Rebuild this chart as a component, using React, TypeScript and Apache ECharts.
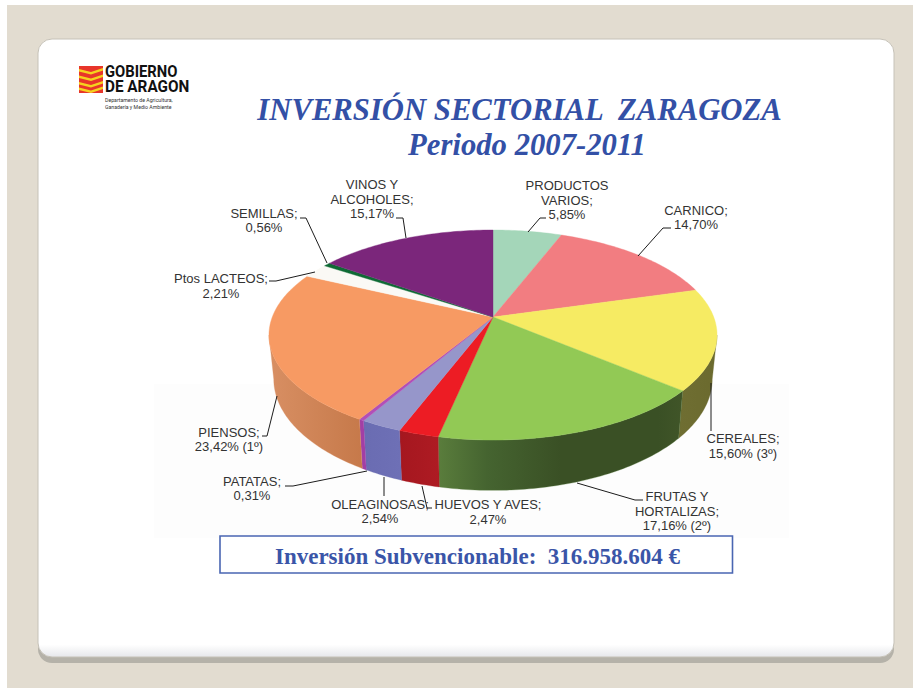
import React, { useEffect, useRef } from "react";
import * as echarts from "echarts";

// ---- data ----
const sliceNames = ["PRODUCTOS VARIOS", "CARNICO", "CEREALES", "FRUTAS Y HORTALIZAS", "HUEVOS Y AVES", "OLEAGINOSAS", "PATATAS", "PIENSOS", "Ptos LACTEOS", "SEMILLAS", "VINOS Y ALCOHOLES"];
const sliceValues = [5.85, 14.7, 15.6, 17.16, 2.47, 2.54, 0.31, 23.42, 2.21, 0.56, 15.17];
const labelNames = ["PRODUCTOS\nVARIOS;", "CARNICO;", "CEREALES;", "FRUTAS Y\nHORTALIZAS;", "HUEVOS Y AVES;", "OLEAGINOSAS;", "PATATAS;", "PIENSOS;", "Ptos LACTEOS;", "SEMILLAS;", "VINOS Y\nALCOHOLES;"];
const labelSuffix = ["", "", " (3º)", " (2º)", "", "", "", " (1º)", "", "", ""];
const titleLines = ["INVERSIÓN SECTORIAL  ZARAGOZA", "Periodo 2007-2011"];
const footerText = "Inversión Subvencionable:  316.958.604 €";
const logoLines = ["GOBIERNO", "DE ARAGON"];
const logoSubLines = ["Departamento de Agricultura,", "Ganadería y Medio Ambiente"];

// ---- styles and layout ----
const topColors = ["#A4D6B9", "#F27D81", "#F6EB63", "#92C955", "#ED1C24", "#9696CA", "#B14FB8", "#F79A63", "#FAF9F5", "#0E6B35", "#7B267B"];
const sideStops: string[][] = [
  ["#7FA690", "#7FA690"], ["#B05C60", "#B05C60"], ["#6B6A2E", "#6F6E32"],
  ["#5A7D3C", "#456430", "#3A5025", "#405528"], ["#A5171F", "#AE1B23"], ["#6A6CB2", "#6E70B6"],
  ["#A23FA5", "#A23FA5"], ["#D88F63", "#C6794A"], ["#DDD", "#DDD"], ["#0A4F27", "#0A4F27"], ["#5A1C5A", "#5A1C5A"],
];
const labelCenters = [[567, 200], [696, 217.5], [743, 446], [677, 511], [488, 512], [380, 511.5], [252, 488.5], [229, 439.5], [221, 286], [264, 220.5], [372, 199]];
const leaders = [
  [[546, 218], [540, 218], [528, 232]],
  [[671, 228], [663, 228], [638, 256]],
  [[711, 383], [711, 431]],
  [[643, 500], [635, 500], [577, 483]],
  [[422, 486], [427, 508], [432, 508]],
  [[384, 477], [384, 496]],
  [[285, 486], [293, 486], [367, 471]],
  [[262, 436], [267, 436], [277, 396]],
  [[269, 281], [276, 281], [315, 272]],
  [[300, 218], [306, 218], [327, 263]],
  [[396, 218], [403, 218], [406, 238]],
];

// Perspective projection of the unit disc
const CX = 493;
const K = 0.1715;
const top3d = { y0: 317, a: 220.7, b: 101.9 };
const bottom3d = { y0: 360, a: 216, b: 108 };
const SIDE_FROM = 99.9;
const SIDE_TO = 260.1;
const total = sliceValues.reduce((s, v) => s + v, 0);

function project(deg: number, p: { y0: number; a: number; b: number }): number[] {
  const r = (deg * Math.PI) / 180;
  const u = Math.sin(r);
  const v = Math.cos(r);
  const w = 1 + K * v;
  return [CX + (p.a * u) / w, p.y0 - (p.b * v) / w];
}

function arc(a0: number, a1: number, p: { y0: number; a: number; b: number }): number[][] {
  const n = Math.max(2, Math.ceil(Math.abs(a1 - a0)));
  const pts: number[][] = [];
  for (let i = 0; i <= n; i++) pts.push(project(a0 + ((a1 - a0) * i) / n, p));
  return pts;
}

function sliceAngles(i: number): number[] {
  let before = 0;
  for (let j = 0; j < i; j++) before += sliceValues[j];
  return [(before / total) * 360, ((before + sliceValues[i]) / total) * 360];
}

function renderSlice(_params: any, api: any) {
  const i = api.value(1);
  const [a0, a1] = sliceAngles(i);
  const children: any[] = [];
  const s0 = Math.max(a0, SIDE_FROM);
  const s1 = Math.min(a1, SIDE_TO);
  if (s1 > s0) {
    const stops = sideStops[i];
    children.push({
      type: "polygon",
      shape: { points: [...arc(s0, s1, top3d), ...arc(s1, s0, bottom3d)] },
      style: {
        fill: {
          type: "linear", x: s0 < 180 ? 1 : 0, y: 0, x2: s0 < 180 ? 0 : 1, y2: 0,
          colorStops: i === 3
            ? [{ offset: 0, color: stops[3] }, { offset: 0.1, color: stops[2] }, { offset: 0.5, color: stops[2] }, { offset: 0.8, color: stops[1] }, { offset: 1, color: stops[0] }]
            : stops.map((c, k) => ({ offset: k / (stops.length - 1), color: c })),
          global: false,
        },
        stroke: stops[0], lineWidth: 0.3,
      },
    });
  }
  children.push({
    type: "polygon",
    shape: { points: [[CX, top3d.y0], ...arc(a0, a1, top3d)] },
    style: { fill: topColors[i], stroke: topColors[i], lineWidth: 0.4 },
  });
  return { type: "group", children };
}

function renderLabel(_params: any, api: any) {
  const i = api.value(1);
  const v = api.value(0).toFixed(2).replace(".", ",");
  const [x, y] = labelCenters[i];
  return {
    type: "group",
    children: [
      { type: "polyline", shape: { points: leaders[i] }, style: { fill: "none", stroke: "#1c1c1c", lineWidth: 1 } },
      {
        type: "text", x, y,
        style: {
          text: `${labelNames[i]}\n${v}%${labelSuffix[i]}`,
          fontFamily: "Liberation Sans", fontSize: 13, lineHeight: 14.7,
          fill: "#333333", textAlign: "center", textVerticalAlign: "middle",
        },
      },
    ],
  };
}

function flagBand(y: number) {
  return { type: "polygon", shape: { points: [[79, y], [91, y + 3], [103, y - 1], [103, y + 1.6], [91, y + 5.4], [79, y + 2.6]] }, style: { fill: "#F5D21E" } };
}

const graphics: any[] = [
  { type: "rect", shape: { x: 7, y: 5, width: 906, height: 683 }, style: { fill: "#E2DCD0" } },
  { type: "rect", shape: { x: 38, y: 46, width: 856, height: 617, r: 14 }, style: { fill: "#B5B2A9" } },
  { type: "rect", shape: { x: 38, y: 39, width: 856, height: 618, r: 14 },
    style: { fill: { type: "linear", x: 0, y: 0, x2: 0, y2: 1, colorStops: [{ offset: 0, color: "#fff" }, { offset: 0.98, color: "#fff" }, { offset: 1, color: "#E6E7EB" }], global: false }, stroke: "#C6C2B8", lineWidth: 1 } },
  { type: "rect", shape: { x: 154, y: 384, width: 635, height: 154 }, style: { fill: "#FDFDFD" } },
  // logo
  { type: "rect", shape: { x: 79, y: 66, width: 24, height: 27 }, style: { fill: "#E8352A" } },
  flagBand(69), flagBand(75.5), flagBand(82), flagBand(87.5),
  { type: "text", x: 105, y: 71.5, scaleX: 0.87, style: { text: logoLines[0], fontFamily: "Roboto", fontWeight: "bold", fontSize: 17, fill: "#111", textVerticalAlign: "middle" } },
  { type: "text", x: 105, y: 86, scaleX: 0.9, style: { text: logoLines[1], fontFamily: "Roboto", fontWeight: "bold", fontSize: 17, fill: "#111", textVerticalAlign: "middle" } },
  { type: "text", x: 105, y: 100, style: { text: logoSubLines[0], fontFamily: "Roboto", fontSize: 5.2, fill: "#333", textVerticalAlign: "middle" } },
  { type: "text", x: 105, y: 106.5, style: { text: logoSubLines[1], fontFamily: "Roboto", fontSize: 5.2, fill: "#333", textVerticalAlign: "middle" } },
  // titles
  { type: "text", x: 519.5, y: 110, style: { text: titleLines[0], fontFamily: "Liberation Serif", fontStyle: "italic", fontWeight: "bold", fontSize: 30.7, fill: "#3350A6", textAlign: "center", textVerticalAlign: "middle" } },
  { type: "text", x: 527, y: 145, style: { text: titleLines[1], fontFamily: "Liberation Serif", fontStyle: "italic", fontWeight: "bold", fontSize: 30.7, fill: "#3350A6", textAlign: "center", textVerticalAlign: "middle" } },
  // footer box
  { type: "rect", shape: { x: 220, y: 536, width: 512.5, height: 37 }, style: { fill: "#fff", stroke: "#4A66B2", lineWidth: 1.6 } },
  { type: "text", x: 477.5, y: 556, style: { text: footerText, fontFamily: "Liberation Serif", fontWeight: "bold", fontSize: 23, fill: "#3A55A8", textAlign: "center", textVerticalAlign: "middle" } },
];

export default function App() {
  const ref = useRef<HTMLDivElement>(null);
  useEffect(() => {
    document.body.style.margin = "0";
    const chart = echarts.init(ref.current!, undefined, { renderer: "svg" });
    const data = sliceValues.map((v, i) => ({ name: sliceNames[i], value: [v, i] }));
    chart.setOption({
      animation: false,
      backgroundColor: "#fff",
      graphic: { elements: graphics },
      series: [
        { type: "custom", coordinateSystem: "none", z: 5, silent: true, clip: false, renderItem: renderSlice, data },
        { type: "custom", coordinateSystem: "none", z: 6, silent: true, clip: false, renderItem: renderLabel, data },
      ],
    });
    return () => chart.dispose();
  }, []);
  return <div ref={ref} style={{ position: "fixed", left: 0, top: 0, width: 913, height: 688 }} />;
}
